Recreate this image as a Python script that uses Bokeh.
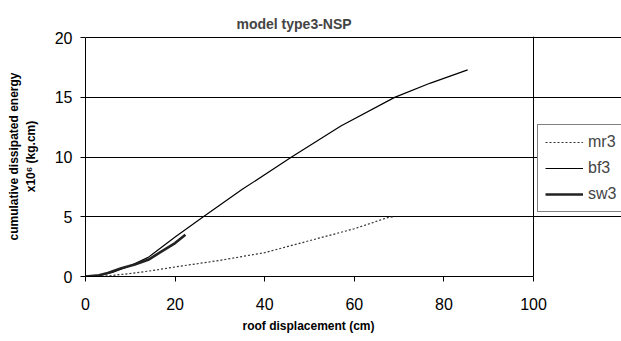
from bokeh.plotting import figure
from bokeh.models import Legend, LegendItem, Range1d, FixedTicker, Span, Title
from bokeh.embed import file_html
from bokeh.resources import INLINE

# data
mr3_x = [0, 5, 10, 15, 20, 30, 40, 50, 60, 67.6, 69]
mr3_y = [0, 0.05, 0.25, 0.5, 0.8, 1.35, 2.0, 3.0, 4.0, 4.95, 5.0]
bf3_x = [0, 3, 6, 10, 14, 20, 26.3, 35, 46, 57, 69, 77, 85.3]
bf3_y = [0, 0.1, 0.35, 0.9, 1.6, 3.3, 5.0, 7.3, 10.0, 12.6, 15.0, 16.2, 17.3]
sw3_x = [0, 3, 5, 8, 11, 14, 17, 20, 22.3]
sw3_y = [0, 0.1, 0.3, 0.7, 1.0, 1.4, 2.1, 2.8, 3.5]
x_ticks = [0, 20, 40, 60, 80, 100]
y_ticks = [0, 5, 10, 15, 20]
x_min, x_max = 0, 100
y_min, y_max = 0, 20

FONT = "Liberation Sans"

# frame runs to the right edge so the legend can sit beside the x=100 border
x_view_end = x_max * 536 / 448
y_view_end = y_max + 0.1
p = figure(width=621, height=341, output_backend="svg", toolbar_location=None,
           x_range=Range1d(x_min, x_view_end), y_range=Range1d(y_min, y_view_end),
           min_border_left=85, min_border_right=0, min_border_top=36, min_border_bottom=65)
p.background_fill_color = "white"
p.border_fill_color = "white"
p.outline_line_color = None

p.title.text = "model type3-NSP"
p.title.align = "left"
p.title.offset = 151
p.title.text_font = FONT
p.title.text_font_size = "14px"
p.title.text_font_style = "bold"

p.xgrid.visible = False
p.ygrid.grid_line_color = "black"
p.ygrid.grid_line_width = 1
p.ygrid.ticker = FixedTicker(ticks=y_ticks)
p.ygrid.bounds = (x_min, x_max)

p.add_layout(Span(location=x_max, dimension="height", line_color="black", line_width=1))

for ax in (p.xaxis[0], p.yaxis[0]):
    ax.axis_line_color = "black"
    ax.major_tick_line_color = "black"
    ax.minor_tick_line_color = None
    ax.major_tick_in = 0
    ax.major_tick_out = 5
    ax.major_label_text_font = FONT
    ax.major_label_text_font_size = "16px"
    ax.major_label_text_color = "black"
    ax.axis_label_text_font = FONT
    ax.axis_label_text_font_size = "12px"
    ax.axis_label_text_font_style = "bold"
    ax.axis_label_text_color = "black"
p.xaxis[0].ticker = FixedTicker(ticks=x_ticks)
p.xaxis[0].bounds = (x_min, x_max)
p.yaxis[0].ticker = FixedTicker(ticks=y_ticks)
p.yaxis[0].bounds = (y_min, y_max)
p.xaxis[0].major_label_standoff = 16
p.yaxis[0].major_label_standoff = 8
p.yaxis[0].axis_label = "cumulative dissipated energy\nx10\u2076 (kg.cm)"
p.yaxis[0].axis_label_standoff = 14

p.add_layout(Title(text="roof displacement (cm)", align="left", offset=157,
                   text_font=FONT, text_font_size="12px", text_font_style="bold",
                   text_color="black", standoff=9), "below")

r_mr3 = p.line(mr3_x, mr3_y, line_color="#333333", line_width=1.2, line_dash="2 2")
r_bf3 = p.line(bf3_x, bf3_y, line_color="black", line_width=1.2)
r_sw3 = p.line(sw3_x, sw3_y, line_color="#222222", line_width=2.6)

legend = Legend(items=[LegendItem(label="mr3", renderers=[r_mr3]),
                       LegendItem(label="bf3", renderers=[r_bf3]),
                       LegendItem(label="sw3", renderers=[r_sw3])],
                location=(452, 64))
legend.border_line_color = "black"
legend.border_line_width = 1
legend.background_fill_alpha = 1
legend.label_text_font = FONT
legend.label_text_font_size = "16px"
legend.glyph_width = 38
legend.glyph_height = 20
legend.label_height = 20
legend.label_standoff = 5
legend.padding = 7
legend.spacing = 6
legend.margin = 0
p.add_layout(legend, "center")

open("out.html", "w").write(file_html(p, INLINE))
